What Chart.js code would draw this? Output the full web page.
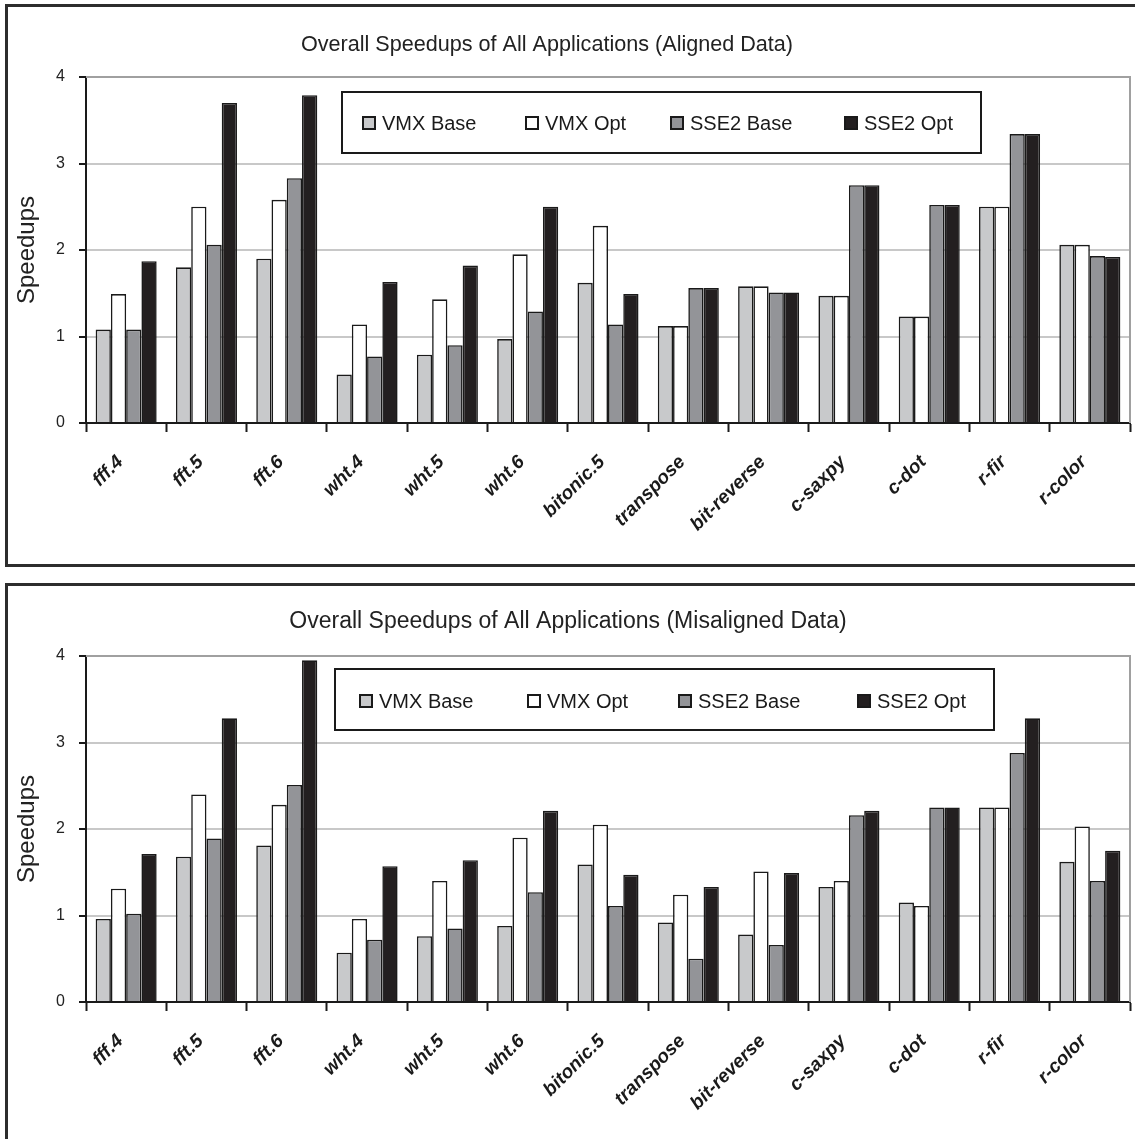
<!DOCTYPE html>
<html>
<head>
<meta charset="utf-8">
<script src="https://cdn.jsdelivr.net/npm/chart.js@4.4.1/dist/chart.umd.min.js"></script>
<style>
    body { margin: 0; background: #fff; width: 1135px; height: 1139px; overflow: hidden; position: relative; }
    .frame { position: absolute; left: 5px; width: 1200px; border: 3px solid #2d2d2d; border-right: none; }
    #frameTop { top: 4px; height: 557px; }
    #frameBottom { top: 583px; height: 600px; border-bottom: none; }
    .wrap { position: absolute; left: 0; width: 1135px; height: 560px; }
    #wrapTop { top: 0; }
    #wrapBottom { top: 579px; }
</style>
</head>
<body>
<div class="frame" id="frameTop"></div>
<div class="frame" id="frameBottom"></div>
<div class="wrap" id="wrapTop"><canvas id="alignedChart" width="1135" height="560"></canvas></div>
<div class="wrap" id="wrapBottom"><canvas id="misalignedChart" width="1135" height="560"></canvas></div>
<script>
const categories = ['fff.4', 'fft.5', 'fft.6', 'wht.4', 'wht.5', 'wht.6', 'bitonic.5',
    'transpose', 'bit-reverse', 'c-saxpy', 'c-dot', 'r-fir', 'r-color'];
const seriesNames = ['VMX Base', 'VMX Opt', 'SSE2 Base', 'SSE2 Opt'];
const yTicks = [0, 1, 2, 3, 4];

// aligned data
const vmxBaseAligned  = [1.08, 1.80, 1.90, 0.56, 0.79, 0.97, 1.62, 1.12, 1.58, 1.47, 1.23, 2.50, 2.06];
const vmxOptAligned   = [1.49, 2.50, 2.58, 1.14, 1.43, 1.95, 2.28, 1.12, 1.58, 1.47, 1.23, 2.50, 2.06];
const sse2BaseAligned = [1.08, 2.06, 2.83, 0.77, 0.90, 1.29, 1.14, 1.56, 1.51, 2.75, 2.52, 3.34, 1.93];
const sse2OptAligned  = [1.87, 3.70, 3.79, 1.63, 1.82, 2.50, 1.49, 1.56, 1.51, 2.75, 2.52, 3.34, 1.92];

// misaligned data
const vmxBaseMisaligned  = [0.96, 1.68, 1.81, 0.57, 0.76, 0.88, 1.59, 0.92, 0.78, 1.33, 1.15, 2.25, 1.62];
const vmxOptMisaligned   = [1.31, 2.40, 2.28, 0.96, 1.40, 1.90, 2.05, 1.24, 1.51, 1.40, 1.11, 2.25, 2.03];
const sse2BaseMisaligned = [1.02, 1.89, 2.51, 0.72, 0.85, 1.27, 1.11, 0.50, 0.66, 2.16, 2.25, 2.88, 1.40];
const sse2OptMisaligned  = [1.71, 3.28, 3.95, 1.57, 1.64, 2.21, 1.47, 1.33, 1.49, 2.21, 2.25, 3.28, 1.75];

const fills = ['#c8c9cb', '#ffffff', '#939498', '#231f20'];
const FONT = "'Liberation Sans', Arial, sans-serif";

// title, boxed legend inside the plot, gray plot border (top and right)
const boxLegend = {
    id: 'boxLegend',
    afterDraw(chart, args, opts) {
        const ctx = chart.ctx;
        const a = chart.chartArea;
        ctx.save();
        ctx.strokeStyle = '#a0a0a0';
        ctx.lineWidth = 2;
        ctx.beginPath();
        ctx.moveTo(a.left, a.top);
        ctx.lineTo(a.right, a.top);
        ctx.lineTo(a.right, a.bottom);
        ctx.stroke();

        ctx.fillStyle = '#222';
        ctx.font = opts.titleSize + 'px ' + FONT;
        ctx.textAlign = 'center';
        ctx.textBaseline = 'middle';
        ctx.fillText(opts.title, opts.titleX, opts.titleY);

        const b = opts.box;
        ctx.fillStyle = '#fff';
        ctx.fillRect(b[0], b[1], b[2] - b[0], b[3] - b[1]);
        ctx.strokeStyle = '#1a1a1a';
        ctx.lineWidth = 2;
        ctx.strokeRect(b[0], b[1], b[2] - b[0], b[3] - b[1]);

        ctx.font = '20px ' + FONT;
        ctx.textAlign = 'left';
        chart.data.datasets.forEach((ds, i) => {
            const x = opts.markers[i];
            const y = opts.midY;
            ctx.fillStyle = ds.backgroundColor;
            ctx.fillRect(x, y - 6, 12, 12);
            ctx.strokeStyle = '#1a1a1a';
            ctx.lineWidth = 2;
            ctx.strokeRect(x, y - 6, 12, 12);
            ctx.fillStyle = '#1a1a1a';
            ctx.fillText(ds.label, x + opts.textGap, y + 1);
        });
        ctx.restore();
    }
};

function makeChart(canvasId, values, legendOpts) {
    const ctx = document.getElementById(canvasId).getContext('2d');
    return new Chart(ctx, {
        type: 'bar',
        data: {
            labels: categories,
            datasets: seriesNames.map((name, i) => ({
                label: name,
                data: values[i],
                backgroundColor: fills[i],
                borderColor: '#1a1a1a',
                borderWidth: 1.6,
                categoryPercentage: 0.76,
                barPercentage: 1.0
            }))
        },
        options: {
            responsive: false,
            animation: false,
            layout: { padding: { left: 8, right: 5, top: 77, bottom: 0 } },
            plugins: {
                legend: { display: false },
                tooltip: { enabled: false },
                title: { display: false },
                boxLegend: legendOpts
            },
            scales: {
                x: {
                    offset: true,
                    grid: {
                        offset: true,
                        drawOnChartArea: false,
                        tickColor: '#1a1a1a',
                        tickWidth: 2,
                        tickLength: 9
                    },
                    border: { display: true, color: '#1a1a1a', width: 2 },
                    ticks: {
                        color: '#1a1a1a',
                        font: { family: FONT, size: 19, weight: 'bold', style: 'italic' },
                        minRotation: 45,
                        maxRotation: 45,
                        padding: 19,
                        labelOffset: -6,
                        autoSkip: false
                    },
                    afterFit(scale) {
                        scale.height = 137;
                        scale.paddingLeft = 0;
                        scale.paddingRight = 0;
                    }
                },
                y: {
                    min: 0,
                    max: 4,
                    afterBuildTicks(scale) {
                        scale.ticks = yTicks.map(v => ({ value: v }));
                    },
                    grid: {
                        color: '#c8c8c8',
                        lineWidth: 2,
                        tickColor: '#1a1a1a',
                        tickWidth: 2,
                        tickLength: 7
                    },
                    border: { display: true, color: '#1a1a1a', width: 2 },
                    ticks: {
                        color: '#222',
                        font: { family: FONT, size: 16 },
                        padding: 14
                    },
                    title: {
                        display: true,
                        text: 'Speedups',
                        color: '#222',
                        font: { family: FONT, size: 24 },
                        padding: { top: 5, bottom: 0 }
                    },
                    afterFit(scale) {
                        scale.width = 78;
                    }
                }
            }
        },
        plugins: [boxLegend]
    });
}

makeChart('alignedChart',
    [vmxBaseAligned, vmxOptAligned, sse2BaseAligned, sse2OptAligned],
    { title: 'Overall Speedups of All Applications (Aligned Data)', titleX: 547, titleY: 45, titleSize: 21.6,
      box: [342, 92, 981, 153], markers: [363, 526, 671, 845], midY: 123, textGap: 19 });

makeChart('misalignedChart',
    [vmxBaseMisaligned, vmxOptMisaligned, sse2BaseMisaligned, sse2OptMisaligned],
    { title: 'Overall Speedups of All Applications (Misaligned Data)', titleX: 568, titleY: 43, titleSize: 23,
      box: [335, 90, 994, 151], markers: [360, 528, 679, 858], midY: 122, textGap: 19 });
</script>
</body>
</html>
